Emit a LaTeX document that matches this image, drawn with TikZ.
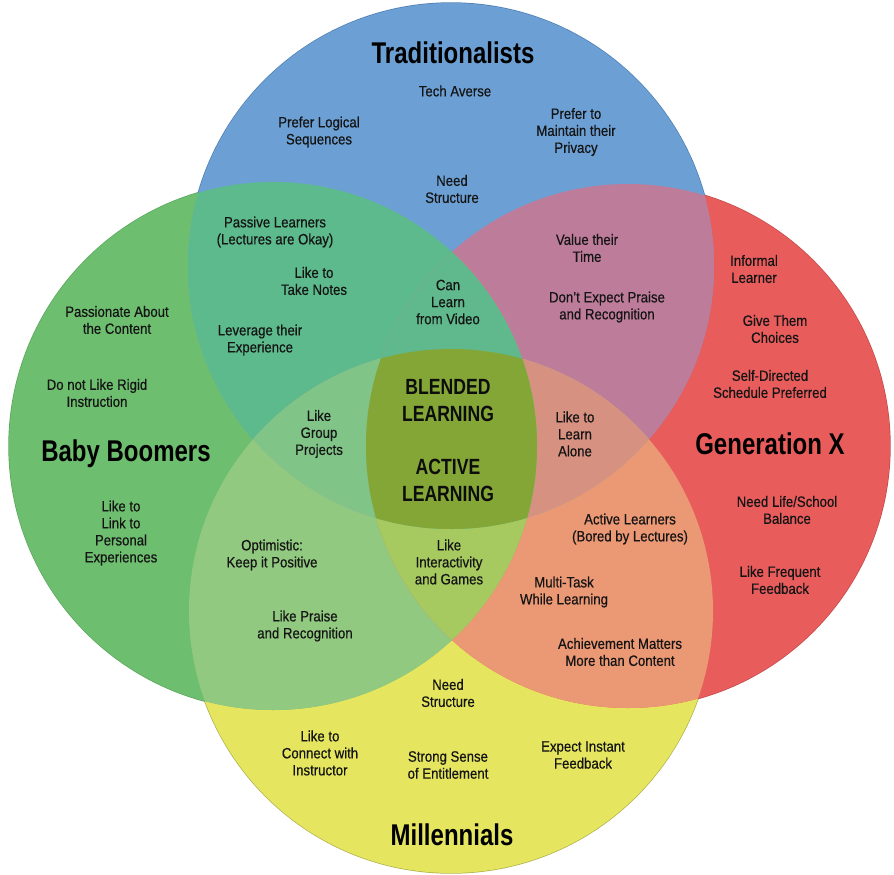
\documentclass[tikz,border=0pt]{standalone}
\usepackage{fontspec}
\setmainfont{Liberation Sans}[FakeStretch=0.88,FakeBold=0.45]
\newfontfamily\headfont{Liberation Sans}[FakeStretch=0.8]

% region colours
\definecolor{cB}{HTML}{6CA0D4}
\definecolor{cR}{HTML}{E85C5C}
\definecolor{cG}{HTML}{6EBE70}
\definecolor{cY}{HTML}{E5E560}
\definecolor{cBG}{HTML}{5CBA8C}
\definecolor{cBR}{HTML}{BE7C9B}
\definecolor{cGY}{HTML}{92C980}
\definecolor{cRY}{HTML}{EB9874}
\definecolor{cBY}{HTML}{9FB39A}
\definecolor{cGR}{HTML}{A8A070}
\definecolor{cBGY}{HTML}{80C488}
\definecolor{cBRY}{HTML}{D69180}
\definecolor{cGRY}{HTML}{A6C960}
\definecolor{cBGR}{HTML}{60B98C}
\definecolor{cCore}{HTML}{84A636}
% rim colours
\definecolor{eB}{HTML}{4E7DB3}
\definecolor{eR}{HTML}{C24A4A}
\definecolor{eG}{HTML}{5AA65C}
\definecolor{eY}{HTML}{AEB04A}

\tikzset{
  lbl/.style={align=center, inner sep=0pt, text=black!92,
              font=\fontsize{15}{17}\selectfont},
  ttl/.style={inner sep=0pt, text=black,
              font=\headfont\bfseries\fontsize{30}{32}\selectfont},
  core/.style={align=center, inner sep=0pt, text=black!95,
               font=\headfont\bfseries\fontsize{22}{27}\selectfont},
  rim/.style={line width=1.4pt},
}

\begin{document}
\begin{tikzpicture}[x=1pt,y=-1pt]
\useasboundingbox (0,0) rectangle (894,875);

\coordinate (oB) at (451,266);
\coordinate (oR) at (628,446);
\coordinate (oG) at (273,446);
\coordinate (oY) at (451,611);
\def\circB{(oB) circle[radius=263pt]}
\def\circR{(oR) circle[radius=262pt]}
\def\circG{(oG) circle[radius=264pt]}
\def\circY{(oY) circle[radius=262pt]}

% thin rims (only the outer halves stay visible)
\draw[rim,eY] \circY;
\draw[rim,eG] \circG;
\draw[rim,eR] \circR;
\draw[rim,eB] \circB;

% single sets
\fill[cY] \circY;
\fill[cG] \circG;
\fill[cR] \circR;
\fill[cB] \circB;

% pairwise overlaps
\begin{scope}\clip \circB; \fill[cBG] \circG; \end{scope}
\begin{scope}\clip \circB; \fill[cBR] \circR; \end{scope}
\begin{scope}\clip \circG; \fill[cGY] \circY; \end{scope}
\begin{scope}\clip \circR; \fill[cRY] \circY; \end{scope}
\begin{scope}\clip \circB; \fill[cBY] \circY; \end{scope}
\begin{scope}\clip \circG; \fill[cGR] \circR; \end{scope}

% triple overlaps
\begin{scope}\clip \circB; \clip \circG; \fill[cBGY] \circY; \end{scope}
\begin{scope}\clip \circB; \clip \circR; \fill[cBRY] \circY; \end{scope}
\begin{scope}\clip \circG; \clip \circR; \fill[cGRY] \circY; \end{scope}
\begin{scope}\clip \circB; \clip \circG; \fill[cBGR] \circR; \end{scope}

% common core of all four sets
\begin{scope}\clip \circB; \clip \circG; \clip \circR; \fill[cCore] \circY; \end{scope}

% set titles
\node[ttl] (tTrad) at (453,53) {Traditionalists};
\node[ttl] (tBoom) at (126,454) {Baby Boomers};
\node[ttl] (tGenX) at (770,444) {Generation X};
\node[ttl] (tMill) at (452,835) {Millennials};

% centre
\node[core] (blended) at (448,401) {BLENDED\\LEARNING};
\node[core] (active) at (448,480) {ACTIVE\\LEARNING};

% Traditionalists
\node[lbl] (t1) at (455,91) {Tech Averse};
\node[lbl] (t2) at (319,132) {Prefer Logical\\Sequences};
\node[lbl] (t3) at (576,132) {Prefer to\\Maintain their\\Privacy};
\node[lbl] (t4) at (452,189) {Need\\Structure};

% Traditionalists & Baby Boomers
\node[lbl] (tb1) at (275,232) {Passive Learners\\(Lectures are Okay)};
\node[lbl] (tb2) at (314,281) {Like to\\Take Notes};
\node[lbl] (tb3) at (260,340) {Leverage their\\Experience};
\node[lbl] (tb4) at (448,302) {Can\\Learn\\from Video};

% Traditionalists & Generation X
\node[lbl] (tg1) at (587,248) {Value their\\Time};
\node[lbl] (tg2) at (607,307) {Don't Expect Praise\\and Recognition};

% Generation X
\node[lbl] (g1) at (754,269) {Informal\\Learner};
\node[lbl] (g2) at (775,329) {Give Them\\Choices};
\node[lbl] (g3) at (770,384) {Self-Directed\\Schedule Preferred};
\node[lbl] (g4) at (787,510) {Need Life/School\\Balance};
\node[lbl] (g5) at (780,580) {Like Frequent\\Feedback};

% Baby Boomers
\node[lbl] (b1) at (117,320) {Passionate About\\the Content};
\node[lbl] (b2) at (97,393) {Do not Like Rigid\\Instruction};
\node[lbl] (b3) at (121,533) {Like to\\Link to\\Personal\\Experiences};

% inner overlaps
\node[lbl] (m1) at (319,434) {Like\\Group\\Projects};
\node[lbl] (m2) at (575,434) {Like to\\Learn\\Alone};
\node[lbl] (m3) at (630,529) {Active Learners\\(Bored by Lectures)};
\node[lbl] (m4) at (449,562) {Like\\Interactivity\\and Games};
\node[lbl] (m5) at (272,555) {Optimistic:\\Keep it Positive};
\node[lbl] (m6) at (564,592) {Multi-Task\\While Learning};
\node[lbl] (m7) at (305,626) {Like Praise\\and Recognition};
\node[lbl] (m8) at (620,652) {Achievement Matters\\More than Content};

% Millennials
\node[lbl] (y1) at (448,693) {Need\\Structure};
\node[lbl] (y2) at (320,753) {Like to\\Connect with\\Instructor};
\node[lbl] (y3) at (448,765) {Strong Sense\\of Entitlement};
\node[lbl] (y4) at (583,755) {Expect Instant\\Feedback};
\end{tikzpicture}
\end{document}
